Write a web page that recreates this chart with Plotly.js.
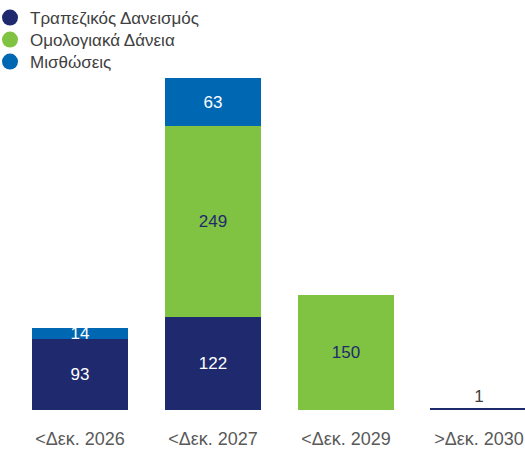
<!DOCTYPE html>
<html>
<head>
<meta charset="utf-8">
<script src="https://cdn.plot.ly/plotly-3.0.1.min.js"></script>
<style>html,body{margin:0;padding:0;background:#fff;}#chart{width:525px;height:452px;}</style>
</head>
<body>
<div id="chart"></div>
<script>
const categories = ['<Δεκ. 2026', '<Δεκ. 2027', '<Δεκ. 2029', '>Δεκ. 2030'];
const seriesNames = ['Τραπεζικός Δανεισμός', 'Ομολογιακά Δάνεια', 'Μισθώσεις'];
const bankLoans = [93, 122, null, 1];
const bondLoans = [null, 249, 150, null];
const leases = [14, 63, null, null];

const colors = ['#1f2a6e', '#80c342', '#0068b3'];
const font = 'Arial, "Liberation Sans", sans-serif';

function labels(arr) { return arr.map(v => v == null ? '' : String(v)); }

const traces = [
  {
    type: 'bar', x: categories, y: bankLoans, name: seriesNames[0], showlegend: false,
    marker: {color: colors[0], line: {color: colors[0], width: [0, 0, 0, 1.5]}},
    text: labels(bankLoans), texttemplate: '%{text}',
    textposition: ['inside', 'inside', 'inside', 'outside'],
    insidetextanchor: 'middle', textangle: 0,
    textfont: {family: font, size: 17, color: ['#ffffff', '#ffffff', '#ffffff', '#404040']},
    hoverinfo: 'skip', cliponaxis: false
  },
  {
    type: 'bar', x: categories, y: bondLoans, name: seriesNames[1], showlegend: false,
    marker: {color: colors[1]},
    text: labels(bondLoans), texttemplate: '%{text}', textposition: 'inside',
    insidetextanchor: 'middle', textangle: 0,
    textfont: {family: font, size: 17, color: colors[0]},
    hoverinfo: 'skip'
  },
  {
    type: 'bar', x: categories, y: leases, name: seriesNames[2], showlegend: false,
    marker: {color: colors[2]},
    text: labels(leases), texttemplate: '%{text}', textposition: 'inside',
    insidetextanchor: 'middle', textangle: 0,
    textfont: {family: font, size: 17, color: '#ffffff'},
    hoverinfo: 'skip'
  }
];
// legend entries with round markers, one legend box per entry
const legendIds = ['legend', 'legend2', 'legend3'];
seriesNames.forEach((n, i) => {
  traces.push({
    type: 'scatter', mode: 'markers', x: [categories[0]], y: [null], name: n,
    legend: legendIds[i],
    marker: {symbol: 'circle', size: 18, color: colors[i]}, hoverinfo: 'skip'
  });
});

const plotH = 410;
function legendBox(pyCenter) {
  return {
    x: -10 / 525, y: 1 - pyCenter / plotH, xanchor: 'left', yanchor: 'middle',
    bgcolor: 'rgba(0,0,0,0)', font: {family: font, size: 17, color: '#404040'},
    itemsizing: 'trace'
  };
}

const layout = {
  width: 525, height: 452,
  margin: {l: 0, r: 0, t: 0, b: 42, autoexpand: false},
  paper_bgcolor: '#ffffff', plot_bgcolor: '#ffffff',
  barmode: 'stack', bargap: 0.28,
  uniformtext: {mode: 'show', minsize: 17},
  font: {family: font, size: 16, color: '#404040'},
  xaxis: {
    type: 'category', range: [-0.6015, 3.346], showgrid: false, zeroline: false,
    showline: false, ticks: '', tickangle: 0, ticklabelstandoff: 16,
    tickfont: {family: font, size: 18, color: '#595959'}
  },
  yaxis: {range: [0, 536], visible: false, showgrid: false, zeroline: false},
  showlegend: true,
  legend: legendBox(18),
  legend2: legendBox(40),
  legend3: legendBox(62)
};

Plotly.newPlot('chart', traces, layout, {displayModeBar: false, staticPlot: true});
</script>
</body>
</html>
